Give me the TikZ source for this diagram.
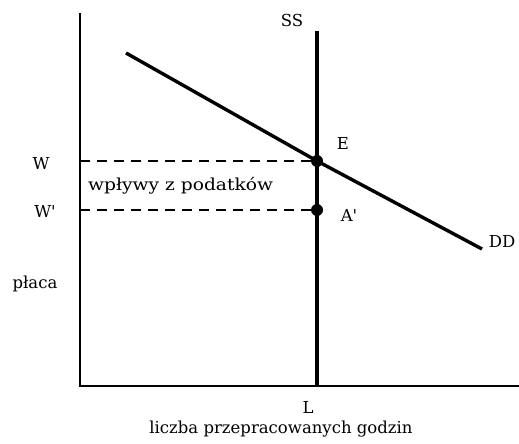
\documentclass[tikz,border=0pt]{standalone}
\usepackage{fontspec}
\setmainfont{DejaVu Serif}
\begin{document}
\begin{tikzpicture}[x=1pt,y=-1pt,
  axis/.style={line width=2pt},
  curve/.style={line width=3.4pt},
  guide/.style={line width=1.3pt, dash pattern=on 10pt off 7pt},
  lbl/.style={font=\fontsize{16.5}{18}\selectfont, inner sep=0pt},
  dot/.style={circle, fill=black, inner sep=0pt, minimum size=12pt}]
\useasboundingbox (0,0) rectangle (519,444);
\coordinate (ytop) at (80,13);
\coordinate (o) at (80,386);
\coordinate (xend) at (519,386);
\coordinate (sstop) at (317,31);
\coordinate (ssbot) at (317,386);
\coordinate (ddl) at (126,53);
\coordinate (ddr) at (482,249);
\coordinate (wl) at (80,161);
\coordinate (wpl) at (80,210);
\node[dot] (E) at (317,161) {};
\node[dot] (A) at (317,210) {};
\draw[axis] (ytop) -- (o) -- (xend);
\draw[curve] (sstop) -- (ssbot);
\draw[curve] (ddl) -- (E.center) -- (ddr);
\draw[guide] (wl) -- (E.center);
\draw[guide] (wpl) -- (A.center);
\node[lbl] (ss) at (292,20) {SS};
\node[lbl] (le) at (343,143) {E};
\node[lbl] (la) at (349,215) {A\textquotesingle};
\node[lbl] (dd) at (502,241) {DD};
\node[lbl] (w) at (41,163) {W};
\node[lbl] (wp) at (45,211) {W\textquotesingle};
\node[lbl, anchor=west, xscale=1.13, transform shape] (tax) at (88,186) {wpływy z podatków};
\node[lbl] (placa) at (35,284) {płaca};
\node[lbl] (l) at (308,407) {L};
\node[lbl] (xl) at (281,429) {liczba przepracowanych godzin};
\end{tikzpicture}
\end{document}
